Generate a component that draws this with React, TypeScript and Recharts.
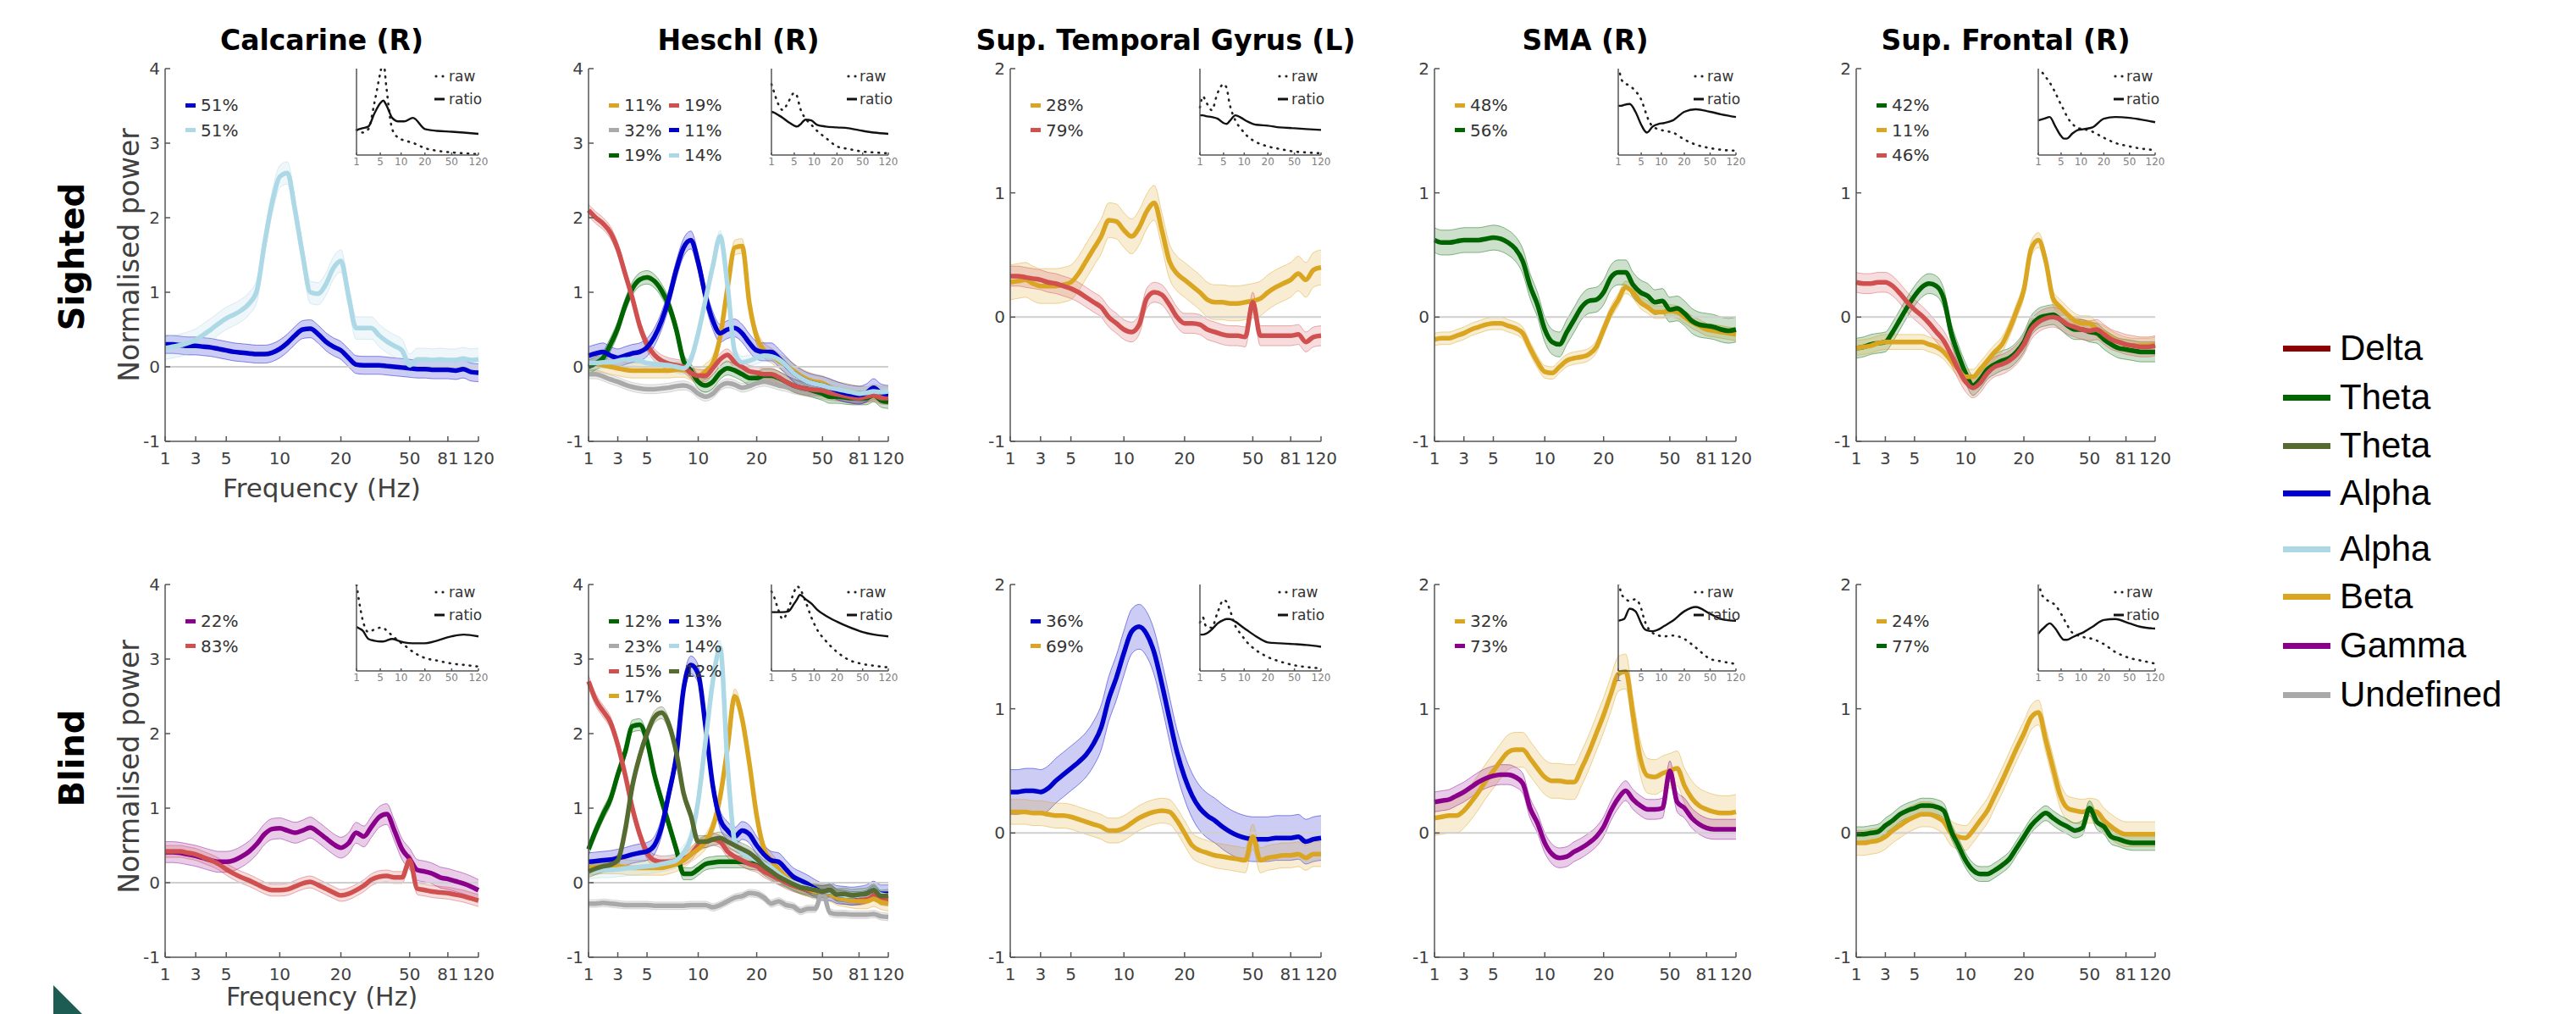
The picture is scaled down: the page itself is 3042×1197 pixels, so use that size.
import React from "react";
import { ComposedChart, LineChart, Line, Area, XAxis, YAxis, ReferenceLine } from "recharts";

// frequency bins (Hz) – the x axis runs over bin index
const FREQ = [1, 1.5, 2, 2.5, 3, 3.5, 4, 4.5, 5, 5.7, 6.4, 7.1, 7.9, 8.6, 9.3, 10, 11.3, 12.5, 13.8, 15, 16.3, 17.5, 18.8, 20, 23.3, 26.7, 30, 33.3, 36.7, 40, 43.3, 46.7, 50, 56, 62, 69, 75, 81, 91, 101, 110, 120];
const MAIN_TICKS = [1, 3, 5, 10, 20, 50, 81, 120];
const INSET_TICKS = [1, 5, 10, 20, 50, 120];
// bins used for the small raw / ratio insets
const INSET_IDX = [0, 1, 2, 4, 6, 8, 9, 10, 12, 14, 16, 19, 23, 27, 32, 36, 41];

// ---- Sighted ----
const CALC_S_ALPHA = [0.30, 0.30, 0.29, 0.28, 0.28, 0.27, 0.26, 0.24, 0.22, 0.20, 0.19, 0.18, 0.17, 0.17, 0.19, 0.24, 0.32, 0.42, 0.50, 0.51, 0.44, 0.34, 0.27, 0.22, 0.12, 0.03, 0.02, 0.02, 0.02, 0.01, 0.00, -0.01, -0.02, -0.03, -0.03, -0.04, -0.04, -0.04, -0.05, -0.03, -0.07, -0.08];
const CALC_S_ALPHA2 = [0.25, 0.27, 0.29, 0.32, 0.36, 0.43, 0.50, 0.58, 0.65, 0.70, 0.76, 0.85, 1.02, 1.65, 2.20, 2.55, 2.60, 2.10, 1.50, 1.00, 0.98, 1.10, 1.32, 1.42, 0.95, 0.52, 0.52, 0.52, 0.42, 0.34, 0.28, 0.22, 0.02, 0.10, 0.10, 0.09, 0.10, 0.09, 0.09, 0.11, 0.09, 0.10];

const HES_S_BETA = [0.05, 0.04, 0.02, 0.00, -0.02, -0.04, -0.05, -0.05, -0.05, -0.05, -0.05, -0.05, -0.04, -0.04, -0.08, -0.12, -0.06, 0.05, 0.40, 1.05, 1.60, 1.62, 0.85, 0.40, 0.22, 0.15, 0.08, 0.02, -0.05, -0.12, -0.17, -0.20, -0.22, -0.27, -0.30, -0.32, -0.34, -0.36, -0.37, -0.34, -0.36, -0.36];
const HES_S_UNDEF = [-0.10, -0.10, -0.13, -0.17, -0.20, -0.24, -0.27, -0.29, -0.30, -0.30, -0.29, -0.28, -0.26, -0.25, -0.28, -0.36, -0.40, -0.36, -0.26, -0.22, -0.24, -0.28, -0.26, -0.22, -0.20, -0.22, -0.25, -0.27, -0.30, -0.32, -0.34, -0.35, -0.37, -0.39, -0.40, -0.41, -0.42, -0.42, -0.41, -0.38, -0.43, -0.45];
const HES_S_THETA = [0.00, 0.05, 0.12, 0.30, 0.52, 0.82, 1.05, 1.17, 1.20, 1.15, 1.02, 0.82, 0.50, 0.08, -0.05, -0.20, -0.25, -0.20, -0.08, -0.02, -0.05, -0.10, -0.15, -0.15, -0.12, -0.12, -0.15, -0.20, -0.25, -0.28, -0.30, -0.33, -0.36, -0.40, -0.40, -0.41, -0.42, -0.42, -0.42, -0.38, -0.45, -0.47];
const HES_S_DELTA = [2.10, 2.00, 1.92, 1.80, 1.58, 1.25, 0.92, 0.55, 0.30, 0.16, 0.08, 0.04, 0.02, 0.00, -0.08, -0.12, -0.12, -0.02, 0.10, 0.16, 0.06, 0.00, -0.06, -0.08, -0.10, -0.10, -0.14, -0.20, -0.25, -0.28, -0.30, -0.31, -0.32, -0.35, -0.37, -0.39, -0.41, -0.42, -0.40, -0.38, -0.42, -0.42];
const HES_S_ALPHA = [0.15, 0.18, 0.20, 0.15, 0.12, 0.15, 0.18, 0.20, 0.26, 0.40, 0.62, 0.92, 1.30, 1.60, 1.70, 1.40, 0.95, 0.62, 0.45, 0.50, 0.52, 0.45, 0.32, 0.22, 0.20, 0.20, 0.12, 0.02, -0.08, -0.15, -0.20, -0.23, -0.25, -0.28, -0.32, -0.35, -0.37, -0.38, -0.35, -0.28, -0.35, -0.37];
const HES_S_ALPHA2 = [0.05, 0.05, 0.06, 0.06, 0.08, 0.10, 0.10, 0.08, 0.05, 0.04, 0.03, 0.02, 0.00, -0.02, 0.10, 0.45, 0.90, 1.35, 1.75, 1.10, 0.20, 0.06, 0.08, 0.12, 0.15, 0.14, 0.10, 0.02, -0.08, -0.15, -0.20, -0.23, -0.25, -0.28, -0.30, -0.32, -0.34, -0.36, -0.35, -0.33, -0.34, -0.33];

const STG_S_BETA = [0.28, 0.29, 0.30, 0.27, 0.25, 0.25, 0.25, 0.26, 0.28, 0.35, 0.45, 0.55, 0.65, 0.78, 0.77, 0.70, 0.65, 0.72, 0.85, 0.92, 0.70, 0.45, 0.35, 0.30, 0.25, 0.20, 0.14, 0.12, 0.12, 0.11, 0.11, 0.12, 0.13, 0.15, 0.20, 0.24, 0.27, 0.30, 0.35, 0.30, 0.38, 0.40];
const STG_S_DELTA = [0.33, 0.33, 0.32, 0.31, 0.30, 0.28, 0.27, 0.25, 0.23, 0.20, 0.16, 0.12, 0.08, 0.00, -0.05, -0.10, -0.12, -0.06, 0.15, 0.20, 0.18, 0.10, 0.00, -0.05, -0.05, -0.06, -0.10, -0.12, -0.14, -0.15, -0.15, -0.16, 0.12, -0.15, -0.15, -0.15, -0.15, -0.15, -0.14, -0.20, -0.16, -0.15];

const SMA_S_BETA = [-0.18, -0.17, -0.17, -0.15, -0.13, -0.10, -0.08, -0.06, -0.05, -0.05, -0.07, -0.09, -0.13, -0.25, -0.36, -0.44, -0.45, -0.40, -0.35, -0.33, -0.32, -0.30, -0.24, -0.10, 0.04, 0.14, 0.24, 0.20, 0.12, 0.08, 0.04, 0.04, 0.05, 0.04, 0.00, -0.04, -0.07, -0.10, -0.11, -0.12, -0.13, -0.14];
const SMA_S_THETA = [0.62, 0.60, 0.60, 0.61, 0.62, 0.62, 0.62, 0.63, 0.64, 0.63, 0.60, 0.55, 0.45, 0.25, 0.10, -0.10, -0.20, -0.22, -0.12, -0.02, 0.08, 0.13, 0.14, 0.20, 0.32, 0.36, 0.36, 0.26, 0.20, 0.17, 0.12, 0.13, 0.06, 0.07, 0.03, -0.03, -0.06, -0.07, -0.08, -0.10, -0.11, -0.10];

const SF_S_THETA = [-0.25, -0.24, -0.22, -0.21, -0.20, -0.12, -0.02, 0.08, 0.17, 0.24, 0.27, 0.25, 0.15, -0.12, -0.30, -0.45, -0.55, -0.50, -0.42, -0.38, -0.35, -0.33, -0.28, -0.20, -0.07, -0.01, 0.01, 0.02, -0.02, -0.07, -0.10, -0.10, -0.12, -0.13, -0.18, -0.22, -0.25, -0.26, -0.27, -0.28, -0.28, -0.28];
const SF_S_BETA = [-0.25, -0.24, -0.23, -0.21, -0.20, -0.20, -0.20, -0.20, -0.20, -0.20, -0.22, -0.24, -0.28, -0.35, -0.42, -0.48, -0.48, -0.42, -0.35, -0.28, -0.22, -0.10, 0.05, 0.22, 0.55, 0.62, 0.45, 0.15, 0.08, 0.02, -0.03, -0.05, -0.05, -0.10, -0.13, -0.17, -0.20, -0.22, -0.23, -0.23, -0.23, -0.22];
const SF_S_DELTA = [0.28, 0.27, 0.27, 0.28, 0.28, 0.25, 0.19, 0.12, 0.06, 0.01, -0.05, -0.12, -0.19, -0.30, -0.42, -0.52, -0.57, -0.53, -0.45, -0.40, -0.38, -0.35, -0.30, -0.22, -0.10, -0.04, -0.01, 0.00, -0.02, -0.06, -0.08, -0.10, -0.11, -0.10, -0.14, -0.18, -0.20, -0.22, -0.23, -0.24, -0.24, -0.23];

// ---- Blind ----
const CALC_B_GAMMA = [0.41, 0.41, 0.40, 0.38, 0.36, 0.33, 0.30, 0.28, 0.28, 0.30, 0.35, 0.42, 0.52, 0.65, 0.72, 0.73, 0.70, 0.67, 0.70, 0.74, 0.68, 0.60, 0.52, 0.47, 0.53, 0.67, 0.62, 0.75, 0.88, 0.92, 0.70, 0.45, 0.32, 0.17, 0.15, 0.12, 0.07, 0.05, 0.02, -0.01, -0.05, -0.10];
const CALC_B_DELTA = [0.42, 0.42, 0.42, 0.40, 0.38, 0.34, 0.30, 0.25, 0.18, 0.12, 0.07, 0.03, -0.02, -0.07, -0.10, -0.10, -0.09, -0.05, -0.01, 0.01, -0.03, -0.08, -0.13, -0.17, -0.15, -0.10, -0.04, 0.04, 0.08, 0.09, 0.07, 0.07, 0.30, -0.08, -0.10, -0.12, -0.13, -0.14, -0.16, -0.18, -0.21, -0.24];

const HES_B_THETA = [0.45, 0.70, 0.92, 1.12, 1.45, 1.75, 2.10, 2.12, 1.90, 1.45, 1.10, 0.78, 0.45, 0.12, 0.12, 0.18, 0.25, 0.27, 0.28, 0.28, 0.28, 0.28, 0.26, 0.25, 0.18, 0.12, 0.06, 0.02, -0.03, -0.07, -0.10, -0.12, -0.12, -0.10, -0.17, -0.18, -0.20, -0.20, -0.18, -0.12, -0.20, -0.20];
const HES_B_UNDEF = [-0.28, -0.28, -0.27, -0.28, -0.29, -0.30, -0.30, -0.30, -0.30, -0.31, -0.31, -0.31, -0.31, -0.31, -0.30, -0.30, -0.30, -0.33, -0.30, -0.25, -0.20, -0.18, -0.14, -0.15, -0.20, -0.28, -0.25, -0.30, -0.32, -0.38, -0.35, -0.35, -0.12, -0.40, -0.42, -0.42, -0.43, -0.43, -0.43, -0.42, -0.45, -0.46];
const HES_B_DELTA = [2.70, 2.45, 2.30, 2.15, 1.85, 1.45, 1.00, 0.65, 0.40, 0.30, 0.28, 0.28, 0.30, 0.32, 0.38, 0.50, 0.55, 0.58, 0.55, 0.42, 0.35, 0.30, 0.25, 0.22, 0.15, 0.10, 0.05, 0.00, -0.04, -0.07, -0.10, -0.12, -0.12, -0.12, -0.18, -0.20, -0.22, -0.22, -0.20, -0.15, -0.22, -0.23];
const HES_B_BETA = [0.20, 0.21, 0.22, 0.22, 0.22, 0.21, 0.20, 0.20, 0.20, 0.20, 0.20, 0.22, 0.25, 0.30, 0.38, 0.45, 0.55, 0.75, 1.15, 1.80, 2.50, 2.20, 1.60, 0.90, 0.45, 0.30, 0.18, 0.08, 0.02, -0.05, -0.08, -0.12, -0.12, -0.15, -0.20, -0.22, -0.24, -0.25, -0.25, -0.22, -0.26, -0.28];
const HES_B_ALPHA = [0.28, 0.29, 0.30, 0.31, 0.33, 0.35, 0.38, 0.40, 0.42, 0.50, 0.75, 1.20, 1.70, 2.60, 2.92, 2.80, 2.10, 1.30, 0.85, 0.70, 0.62, 0.70, 0.65, 0.50, 0.38, 0.30, 0.28, 0.18, 0.08, 0.03, -0.02, -0.08, -0.12, -0.12, -0.16, -0.17, -0.18, -0.17, -0.15, -0.10, -0.15, -0.15];
const HES_B_ALPHA2 = [0.15, 0.16, 0.17, 0.17, 0.18, 0.19, 0.20, 0.21, 0.22, 0.23, 0.25, 0.27, 0.30, 0.40, 0.60, 1.10, 1.90, 2.70, 3.15, 1.60, 0.55, 0.40, 0.35, 0.30, 0.25, 0.20, 0.12, 0.05, 0.00, -0.04, -0.07, -0.10, -0.12, -0.12, -0.16, -0.17, -0.18, -0.17, -0.16, -0.10, -0.16, -0.17];
const HES_B_THETA2 = [0.15, 0.19, 0.22, 0.24, 0.30, 0.70, 1.30, 1.70, 2.00, 2.22, 2.28, 2.12, 1.75, 1.20, 0.90, 0.55, 0.55, 0.58, 0.60, 0.55, 0.50, 0.45, 0.40, 0.32, 0.22, 0.15, 0.08, 0.03, -0.02, -0.06, -0.08, -0.10, -0.12, -0.10, -0.16, -0.15, -0.17, -0.16, -0.15, -0.10, -0.18, -0.17];

const STG_B_ALPHA = [0.33, 0.33, 0.34, 0.34, 0.33, 0.36, 0.42, 0.47, 0.52, 0.57, 0.63, 0.72, 0.85, 1.08, 1.25, 1.45, 1.62, 1.66, 1.60, 1.45, 1.20, 0.92, 0.65, 0.45, 0.30, 0.20, 0.14, 0.10, 0.05, 0.01, -0.02, -0.04, -0.05, -0.05, -0.05, -0.04, -0.04, -0.04, -0.03, -0.07, -0.05, -0.04];
const STG_B_BETA = [0.17, 0.17, 0.17, 0.16, 0.16, 0.15, 0.14, 0.14, 0.13, 0.11, 0.09, 0.07, 0.05, 0.02, 0.02, 0.04, 0.08, 0.12, 0.15, 0.17, 0.18, 0.17, 0.10, 0.00, -0.10, -0.14, -0.16, -0.18, -0.19, -0.20, -0.21, -0.22, -0.03, -0.22, -0.20, -0.19, -0.18, -0.18, -0.17, -0.20, -0.17, -0.17];

const SMA_B_BETA = [0.12, 0.13, 0.14, 0.14, 0.18, 0.25, 0.33, 0.42, 0.50, 0.58, 0.65, 0.67, 0.67, 0.60, 0.52, 0.45, 0.42, 0.42, 0.41, 0.41, 0.52, 0.65, 0.80, 0.95, 1.12, 1.28, 1.30, 0.95, 0.60, 0.46, 0.45, 0.48, 0.50, 0.52, 0.38, 0.28, 0.22, 0.19, 0.17, 0.16, 0.16, 0.17];
const SMA_B_GAMMA = [0.25, 0.26, 0.27, 0.30, 0.33, 0.37, 0.41, 0.44, 0.46, 0.47, 0.47, 0.45, 0.40, 0.20, 0.08, -0.08, -0.17, -0.20, -0.19, -0.15, -0.12, -0.08, -0.03, 0.05, 0.18, 0.28, 0.34, 0.27, 0.22, 0.19, 0.19, 0.20, 0.50, 0.25, 0.20, 0.12, 0.07, 0.04, 0.03, 0.03, 0.03, 0.03];

const SF_B_BETA = [-0.08, -0.08, -0.07, -0.06, -0.03, 0.02, 0.06, 0.10, 0.13, 0.15, 0.15, 0.13, 0.09, 0.00, -0.03, -0.04, 0.02, 0.10, 0.18, 0.30, 0.42, 0.55, 0.68, 0.80, 0.93, 0.97, 0.75, 0.52, 0.30, 0.20, 0.18, 0.17, 0.18, 0.17, 0.10, 0.05, 0.01, -0.01, -0.01, -0.01, -0.01, -0.01];
const SF_B_THETA = [-0.01, -0.01, 0.00, 0.01, 0.06, 0.10, 0.15, 0.18, 0.20, 0.22, 0.22, 0.21, 0.18, 0.02, -0.10, -0.22, -0.30, -0.33, -0.33, -0.30, -0.26, -0.21, -0.12, -0.03, 0.06, 0.12, 0.16, 0.12, 0.08, 0.05, 0.02, 0.04, 0.20, 0.09, 0.05, -0.03, -0.05, -0.07, -0.08, -0.08, -0.08, -0.08];

// ---- insets: raw power and ratio, scaled 0..1 of the inset height ----
const CALC_S_RAW = [0.29, 0.29, 0.26, 0.30, 0.60, 0.95, 1.10, 0.80, 0.30, 0.20, 0.17, 0.14, 0.08, 0.05, 0.03, 0.02, 0.01];
const CALC_S_RATIO = [0.29, 0.30, 0.31, 0.33, 0.48, 0.60, 0.63, 0.58, 0.43, 0.39, 0.39, 0.43, 0.30, 0.28, 0.27, 0.26, 0.245];
const HES_S_RAW = [0.82, 0.72, 0.62, 0.52, 0.62, 0.72, 0.68, 0.55, 0.42, 0.35, 0.28, 0.20, 0.10, 0.07, 0.04, 0.03, 0.02];
const HES_S_RATIO = [0.50, 0.49, 0.47, 0.43, 0.38, 0.34, 0.33, 0.35, 0.41, 0.40, 0.35, 0.33, 0.32, 0.31, 0.28, 0.26, 0.245];
const STG_S_RAW = [0.55, 0.68, 0.62, 0.52, 0.72, 0.82, 0.78, 0.60, 0.40, 0.30, 0.22, 0.15, 0.10, 0.07, 0.04, 0.03, 0.02];
const STG_S_RATIO = [0.46, 0.46, 0.45, 0.44, 0.42, 0.37, 0.36, 0.39, 0.46, 0.43, 0.39, 0.35, 0.34, 0.32, 0.31, 0.30, 0.29];
const SMA_S_RAW = [1.10, 0.88, 0.84, 0.80, 0.74, 0.64, 0.55, 0.45, 0.33, 0.30, 0.28, 0.26, 0.18, 0.12, 0.08, 0.06, 0.05];
const SMA_S_RATIO = [0.57, 0.57, 0.58, 0.59, 0.50, 0.35, 0.29, 0.26, 0.33, 0.36, 0.37, 0.40, 0.50, 0.53, 0.50, 0.47, 0.44];
const SF_S_RAW = [1.10, 0.98, 0.93, 0.84, 0.72, 0.58, 0.52, 0.45, 0.36, 0.31, 0.30, 0.27, 0.20, 0.14, 0.10, 0.075, 0.057];
const SF_S_RATIO = [0.40, 0.41, 0.42, 0.44, 0.33, 0.22, 0.19, 0.19, 0.25, 0.29, 0.30, 0.32, 0.42, 0.44, 0.43, 0.41, 0.38];
const CALC_B_RAW = [1.00, 0.78, 0.60, 0.45, 0.48, 0.50, 0.50, 0.47, 0.41, 0.35, 0.30, 0.22, 0.15, 0.12, 0.085, 0.07, 0.05];
const CALC_B_RATIO = [0.51, 0.49, 0.47, 0.37, 0.35, 0.34, 0.34, 0.35, 0.37, 0.35, 0.33, 0.32, 0.32, 0.35, 0.40, 0.42, 0.40];
const HES_B_RAW = [0.92, 0.85, 0.75, 0.60, 0.72, 0.92, 0.98, 0.95, 0.80, 0.62, 0.48, 0.35, 0.22, 0.13, 0.08, 0.06, 0.04];
const HES_B_RATIO = [0.68, 0.68, 0.68, 0.68, 0.69, 0.78, 0.83, 0.88, 0.83, 0.78, 0.71, 0.64, 0.57, 0.51, 0.45, 0.42, 0.40];
const STG_B_RAW = [0.56, 0.62, 0.52, 0.50, 0.68, 0.82, 0.80, 0.72, 0.52, 0.42, 0.33, 0.24, 0.16, 0.11, 0.065, 0.045, 0.03];
const STG_B_RATIO = [0.42, 0.42, 0.43, 0.48, 0.55, 0.59, 0.60, 0.60, 0.57, 0.52, 0.47, 0.40, 0.33, 0.32, 0.31, 0.30, 0.28];
const SMA_B_RAW = [1.10, 0.90, 0.85, 0.81, 0.83, 0.72, 0.60, 0.52, 0.44, 0.41, 0.40, 0.41, 0.37, 0.27, 0.14, 0.11, 0.08];
const SMA_B_RATIO = [0.58, 0.59, 0.60, 0.72, 0.69, 0.55, 0.49, 0.47, 0.46, 0.48, 0.52, 0.58, 0.69, 0.74, 0.66, 0.60, 0.58];
const SF_B_RAW = [1.10, 0.90, 0.85, 0.80, 0.76, 0.66, 0.60, 0.54, 0.44, 0.41, 0.39, 0.37, 0.31, 0.22, 0.15, 0.12, 0.085];
const SF_B_RATIO = [0.43, 0.47, 0.50, 0.55, 0.49, 0.39, 0.36, 0.36, 0.39, 0.42, 0.45, 0.51, 0.59, 0.60, 0.55, 0.51, 0.49];

const BANDS = [
  { key: "delta", name: "Delta", swatch: "#8B0000", line: "#D05050" },
  { key: "theta", name: "Theta", swatch: "#006400", line: "#006400" },
  { key: "theta2", name: "Theta", swatch: "#556B2F", line: "#556B2F" },
  { key: "alpha", name: "Alpha", swatch: "#0000CD", line: "#0000CD" },
  { key: "alpha2", name: "Alpha", swatch: "#ADD8E6", line: "#ADD8E6" },
  { key: "beta", name: "Beta", swatch: "#DAA520", line: "#DAA520" },
  { key: "gamma", name: "Gamma", swatch: "#8B008B", line: "#8B008B" },
  { key: "undef", name: "Undefined", swatch: "#A9A9A9", line: "#A9A9A9" },
];

type Series = { band: string; label: string; v: number[]; sem: number };
type PanelDef = { row: number; col: number; title?: string; ymax: number; raw: number[]; ratio: number[]; series: Series[] };

const PANELS: PanelDef[] = [
  { row: 0, col: 0, title: "Calcarine (R)", ymax: 4, raw: CALC_S_RAW, ratio: CALC_S_RATIO, series: [
    { band: "alpha", label: "51%", v: CALC_S_ALPHA, sem: 0.12 },
    { band: "alpha2", label: "51%", v: CALC_S_ALPHA2, sem: 0.15 },
  ] },
  { row: 0, col: 1, title: "Heschl (R)", ymax: 4, raw: HES_S_RAW, ratio: HES_S_RATIO, series: [
    { band: "beta", label: "11%", v: HES_S_BETA, sem: 0.1 },
    { band: "undef", label: "32%", v: HES_S_UNDEF, sem: 0.06 },
    { band: "theta", label: "19%", v: HES_S_THETA, sem: 0.09 },
    { band: "delta", label: "19%", v: HES_S_DELTA, sem: 0.08 },
    { band: "alpha", label: "11%", v: HES_S_ALPHA, sem: 0.12 },
    { band: "alpha2", label: "14%", v: HES_S_ALPHA2, sem: 0.08 },
  ] },
  { row: 0, col: 2, title: "Sup. Temporal Gyrus (L)", ymax: 2, raw: STG_S_RAW, ratio: STG_S_RATIO, series: [
    { band: "beta", label: "28%", v: STG_S_BETA, sem: 0.14 },
    { band: "delta", label: "79%", v: STG_S_DELTA, sem: 0.08 },
  ] },
  { row: 0, col: 3, title: "SMA (R)", ymax: 2, raw: SMA_S_RAW, ratio: SMA_S_RATIO, series: [
    { band: "beta", label: "48%", v: SMA_S_BETA, sem: 0.05 },
    { band: "theta", label: "56%", v: SMA_S_THETA, sem: 0.1 },
  ] },
  { row: 0, col: 4, title: "Sup. Frontal (R)", ymax: 2, raw: SF_S_RAW, ratio: SF_S_RATIO, series: [
    { band: "theta", label: "42%", v: SF_S_THETA, sem: 0.08 },
    { band: "beta", label: "11%", v: SF_S_BETA, sem: 0.06 },
    { band: "delta", label: "46%", v: SF_S_DELTA, sem: 0.08 },
  ] },
  { row: 1, col: 0, ymax: 4, raw: CALC_B_RAW, ratio: CALC_B_RATIO, series: [
    { band: "gamma", label: "22%", v: CALC_B_GAMMA, sem: 0.14 },
    { band: "delta", label: "83%", v: CALC_B_DELTA, sem: 0.08 },
  ] },
  { row: 1, col: 1, ymax: 4, raw: HES_B_RAW, ratio: HES_B_RATIO, series: [
    { band: "theta", label: "12%", v: HES_B_THETA, sem: 0.08 },
    { band: "undef", label: "23%", v: HES_B_UNDEF, sem: 0.05 },
    { band: "delta", label: "15%", v: HES_B_DELTA, sem: 0.08 },
    { band: "beta", label: "17%", v: HES_B_BETA, sem: 0.1 },
    { band: "alpha", label: "13%", v: HES_B_ALPHA, sem: 0.12 },
    { band: "alpha2", label: "14%", v: HES_B_ALPHA2, sem: 0.1 },
    { band: "theta2", label: "12%", v: HES_B_THETA2, sem: 0.08 },
  ] },
  { row: 1, col: 2, ymax: 2, raw: STG_B_RAW, ratio: STG_B_RATIO, series: [
    { band: "alpha", label: "36%", v: STG_B_ALPHA, sem: 0.18 },
    { band: "beta", label: "69%", v: STG_B_BETA, sem: 0.1 },
  ] },
  { row: 1, col: 3, ymax: 2, raw: SMA_B_RAW, ratio: SMA_B_RATIO, series: [
    { band: "beta", label: "32%", v: SMA_B_BETA, sem: 0.14 },
    { band: "gamma", label: "73%", v: SMA_B_GAMMA, sem: 0.08 },
  ] },
  { row: 1, col: 4, ymax: 2, raw: SF_B_RAW, ratio: SF_B_RATIO, series: [
    { band: "beta", label: "24%", v: SF_B_BETA, sem: 0.1 },
    { band: "theta", label: "77%", v: SF_B_THETA, sem: 0.06 },
  ] },
];

// layout (px)
const ROW_TOP = [81, 690];
const PLOT_H = 440;
const COL_X = [195, 695, 1193, 1694, 2192];
const COL_W = [370, 354, 367, 356, 353];
const YW = 50;
const MT = 14;
const MR = 30;
const XH = 44;
const IYW = 12;
const LEGEND_Y = [411, 469, 526, 582, 648, 704, 762, 820];

const FONT = "'DejaVu Sans', Verdana, sans-serif";
const AX = { stroke: "#555", strokeWidth: 1.5 };
const lineColor = (b: string) => BANDS.find((x) => x.key === b)!.line;
const idxOf = (f: number) => FREQ.indexOf(f);

function Panel({ p }: { p: PanelDef }) {
  const x0 = COL_X[p.col];
  const w = COL_W[p.col];
  const top = ROW_TOP[p.row];
  const rows = FREQ.map((_, i) => {
    const r: Record<string, unknown> = { i };
    p.series.forEach((s, k) => {
      r["v" + k] = s.v[i];
      r["b" + k] = [s.v[i] - s.sem, s.v[i] + s.sem];
    });
    return r;
  });
  const yTicks = p.ymax === 4 ? [-1, 0, 1, 2, 3, 4] : [-1, 0, 1, 2];
  const perCol = p.series.length > 3 ? Math.ceil(p.series.length / 2) : p.series.length;

  const il = x0 + Math.round(0.61 * w);
  const iw = x0 + w - il;
  const ih = 102;
  const insetRows = INSET_IDX.map((i, k) => ({ i, raw: p.raw[k], ratio: p.ratio[k] }));

  return (
    <>
      <div style={{ position: "absolute", left: x0 - YW, top: top - MT }}>
        <ComposedChart width={YW + w + MR} height={MT + PLOT_H + XH} data={rows} margin={{ top: MT, right: MR, bottom: 0, left: 0 }}>
          <XAxis
            type="number"
            dataKey="i"
            domain={[0, FREQ.length - 1]}
            ticks={MAIN_TICKS.map(idxOf)}
            tickFormatter={(i: number) => String(FREQ[i])}
            interval={0}
            height={XH}
            axisLine={AX}
            tickLine={AX}
            tickSize={-6}
            tickMargin={19}
            tick={{ fontSize: 20, fill: "#404040", fontFamily: FONT }}
          />
          <YAxis
            type="number"
            domain={[-1, p.ymax]}
            ticks={yTicks}
            interval={0}
            width={YW}
            axisLine={AX}
            tickLine={AX}
            tickSize={-6}
            tickMargin={12}
            tick={{ fontSize: 20, fill: "#404040", fontFamily: FONT }}
          />
          <ReferenceLine y={0} stroke="#cfcfcf" strokeWidth={2} />
          {p.series.map((s, k) => (
            <Area
              key={"b" + k}
              dataKey={"b" + k}
              type="monotone"
              stroke={lineColor(s.band)}
              strokeOpacity={0.45}
              strokeWidth={1}
              fill={lineColor(s.band)}
              fillOpacity={0.2}
              isAnimationActive={false}
              activeDot={false}
            />
          ))}
          {p.series.map((s, k) => (
            <Line
              key={"v" + k}
              dataKey={"v" + k}
              type="monotone"
              stroke={lineColor(s.band)}
              strokeWidth={5.5}
              dot={false}
              activeDot={false}
              isAnimationActive={false}
            />
          ))}
        </ComposedChart>
      </div>

      {/* inset: raw power vs ratio */}
      <div style={{ position: "absolute", left: il - IYW, top: top - 2 }}>
        <LineChart width={IYW + iw + 16} height={2 + ih + 28} data={insetRows} margin={{ top: 2, right: 16, bottom: 0, left: 0 }}>
          <XAxis
            type="number"
            dataKey="i"
            domain={[0, FREQ.length - 1]}
            ticks={INSET_TICKS.map(idxOf)}
            tickFormatter={(i: number) => String(FREQ[i])}
            interval={0}
            height={28}
            axisLine={AX}
            tickLine={AX}
            tickSize={-3}
            tickMargin={6}
            tick={{ fontSize: 12, fill: "#808080", fontFamily: FONT }}
          />
          <YAxis type="number" domain={[0, 1]} allowDataOverflow width={IYW} tick={false} tickLine={false} axisLine={AX} />
          <Line dataKey="raw" type="monotone" stroke="#222" strokeWidth={2.6} strokeDasharray="1 7" strokeLinecap="round" dot={false} activeDot={false} isAnimationActive={false} />
          <Line dataKey="ratio" type="monotone" stroke="#111" strokeWidth={2.4} dot={false} activeDot={false} isAnimationActive={false} />
        </LineChart>
      </div>

      {/* raw / ratio key */}
      <svg style={{ position: "absolute", left: x0 + Math.round(0.855 * w), top: top, overflow: "visible" }} width={20} height={45}>
        <circle cx={4} cy={9} r={1.6} fill="#222" />
        <circle cx={12} cy={9} r={1.6} fill="#222" />
        <line x1={2} x2={14} y1={36} y2={36} stroke="#111" strokeWidth={3} />
      </svg>
      {["raw", "ratio"].map((t, k) => (
        <div key={t} style={{ position: "absolute", left: x0 + Math.round(0.905 * w), top: top + 9 + k * 27 - 11, height: 22, lineHeight: "22px", fontSize: 17, color: "#333", fontFamily: FONT }}>
          {t}
        </div>
      ))}

      {/* percentage key */}
      {p.series.map((s, k) => {
        const c = Math.floor(k / perCol);
        const r = k % perCol;
        const cy = top + 43 + r * 29.5;
        return (
          <div key={"l" + k} style={{ position: "absolute", left: x0 + 24 + c * 71, top: cy - 12, height: 24, display: "flex", alignItems: "center", fontFamily: FONT, fontSize: 20, color: "#333" }}>
            <span style={{ display: "inline-block", width: 12, height: 5, background: lineColor(s.band), marginRight: 6 }} />
            <span>{s.label}</span>
          </div>
        );
      })}

      {p.title && (
        <div style={{ position: "absolute", left: x0 - 60, width: w + 120, top: 28, height: 40, lineHeight: "40px", textAlign: "center", fontFamily: FONT, fontWeight: "bold", fontSize: 33, color: "#000", whiteSpace: "nowrap" }}>
          {p.title}
        </div>
      )}
    </>
  );
}

function Txt({ x, y, rot, size, bold, color, children }: { x: number; y: number; rot?: boolean; size: number; bold?: boolean; color: string; children: React.ReactNode }) {
  return (
    <div
      style={{
        position: "absolute",
        left: x,
        top: y,
        transform: `translate(-50%, -50%)${rot ? " rotate(-90deg)" : ""}`,
        whiteSpace: "nowrap",
        fontFamily: FONT,
        fontSize: size,
        fontWeight: bold ? "bold" : "normal",
        color,
        lineHeight: 1,
      }}
    >
      {children}
    </div>
  );
}

export default function App() {
  const c0 = COL_X[0] + COL_W[0] / 2;
  return (
    <div style={{ position: "absolute", left: 0, top: 0, width: 3042, height: 1197, background: "#fff", overflow: "hidden" }}>
      {PANELS.map((p, k) => (
        <Panel key={k} p={p} />
      ))}

      <Txt x={85} y={303} rot size={40} bold color="#000">Sighted</Txt>
      <Txt x={85} y={895} rot size={40} bold color="#000">Blind</Txt>
      <Txt x={152} y={301} rot size={33} color="#404040">Normalised power</Txt>
      <Txt x={152} y={905} rot size={33} color="#404040">Normalised power</Txt>
      <Txt x={c0} y={576} size={31} color="#404040">Frequency (Hz)</Txt>
      <Txt x={c0} y={1177} size={30} color="#404040">Frequency (Hz)</Txt>

      {BANDS.map((b, k) => (
        <div key={b.key + k} style={{ position: "absolute", left: 2696, top: LEGEND_Y[k] - 25, height: 50, display: "flex", alignItems: "center", fontFamily: "'Liberation Sans', Arial, sans-serif", fontSize: 42, color: "#000" }}>
          <span style={{ display: "inline-block", width: 56, height: 7, background: b.swatch, marginRight: 11 }} />
          <span>{b.name}</span>
        </div>
      ))}

      <svg style={{ position: "absolute", left: 0, top: 1150 }} width={120} height={47}>
        <polygon points="63,13 63,47 97,47" fill="#1D5C52" />
      </svg>
    </div>
  );
}
